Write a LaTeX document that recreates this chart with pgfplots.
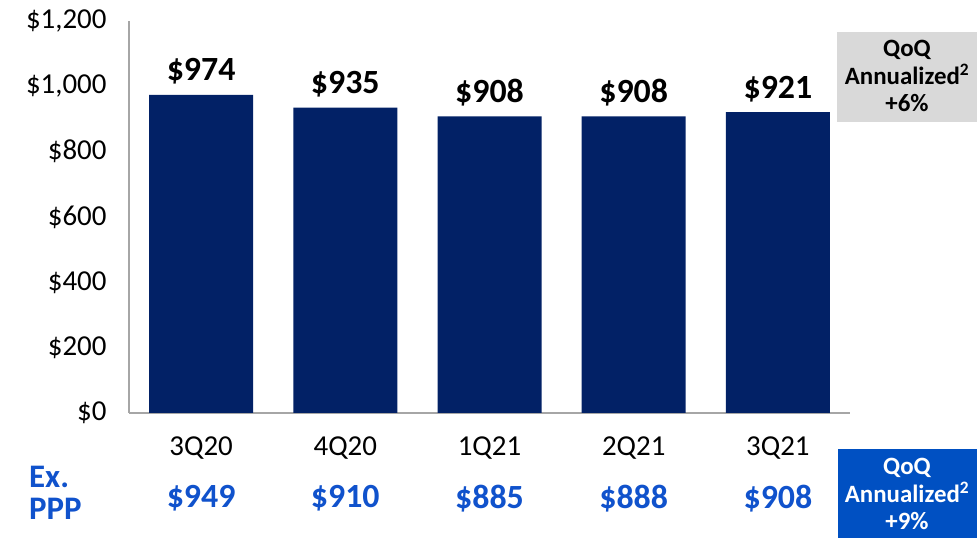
\documentclass[border=0pt]{standalone}
\usepackage{fontspec}
\setmainfont{Carlito}
\usepackage{pgfplots}
\pgfplotsset{compat=1.18}
\definecolor{barnavy}{RGB}{2,33,102}
\definecolor{pppblue}{RGB}{16,82,204}
\definecolor{boxblue}{RGB}{0,80,194}
\definecolor{boxgray}{RGB}{217,217,217}
\definecolor{axisgray}{RGB}{166,166,166}

\begin{document}
\begin{tikzpicture}[x=1bp,y=1bp]
\useasboundingbox (0,0) rectangle (977,538);
\begin{axis}[
    at={(129bp,125bp)}, anchor=south west,
    width=721bp, height=392bp, scale only axis,
    xmin=-0.5, xmax=4.5, ymin=0, ymax=1200,
    axis x line=bottom, axis y line=left,
    axis line style={axisgray, line width=1.2bp, -},
    xtick={0,...,4},
    xticklabels={3Q20,4Q20,1Q21,2Q21,3Q21},
    ytick={0,200,...,1200},
    yticklabels={\$0,\$200,\$400,\$600,\$800,{\$1,000},{\$1,200}},
    major tick length=0,
    tick label style={font=\fontsize{29}{29}\selectfont, text=black},
    yticklabel style={anchor=east, xshift=-19bp},
    xticklabel style={yshift=-20bp},
    clip=false,
    bar width=104bp,
]
\addplot[ybar, fill=barnavy, draw=none, point meta=explicit symbolic,
    nodes near coords,
    nodes near coords style={font=\fontsize{34}{34}\selectfont\bfseries, text=black, anchor=south, yshift=7bp}]
    coordinates {(0,974)[\$974] (1,935)[\$935] (2,908)[\$908] (3,908)[\$908] (4,921)[\$921]};
% Ex. PPP values shown below the categories
\addplot[draw=none, point meta=explicit symbolic,
    nodes near coords,
    nodes near coords style={font=\fontsize{34}{34}\selectfont\bfseries, text=pppblue, anchor=center}]
    coordinates {(0,-262)[\$949] (1,-262)[\$910] (2,-262)[\$885] (3,-262)[\$888] (4,-262)[\$908]};
\end{axis}
\node[anchor=north west, align=left, inner sep=0, text=pppblue,
      font=\fontsize{33}{32}\selectfont\bfseries] at (29,538-466) {Ex.\\PPP};
\fill[boxgray] (837,538-122) rectangle (977,538-32);
\node[align=center, inner sep=0, font=\fontsize{25}{28}\selectfont\bfseries]
    at (907,538-76) {QoQ\\Annualized\textsuperscript{2}\\+6\%};
\fill[boxblue] (838,0) rectangle (977,538-449);
\node[align=center, inner sep=0, text=white, font=\fontsize{25}{28}\selectfont\bfseries]
    at (907,538-494) {QoQ\\Annualized\textsuperscript{2}\\+9\%};
\end{tikzpicture}
\end{document}
